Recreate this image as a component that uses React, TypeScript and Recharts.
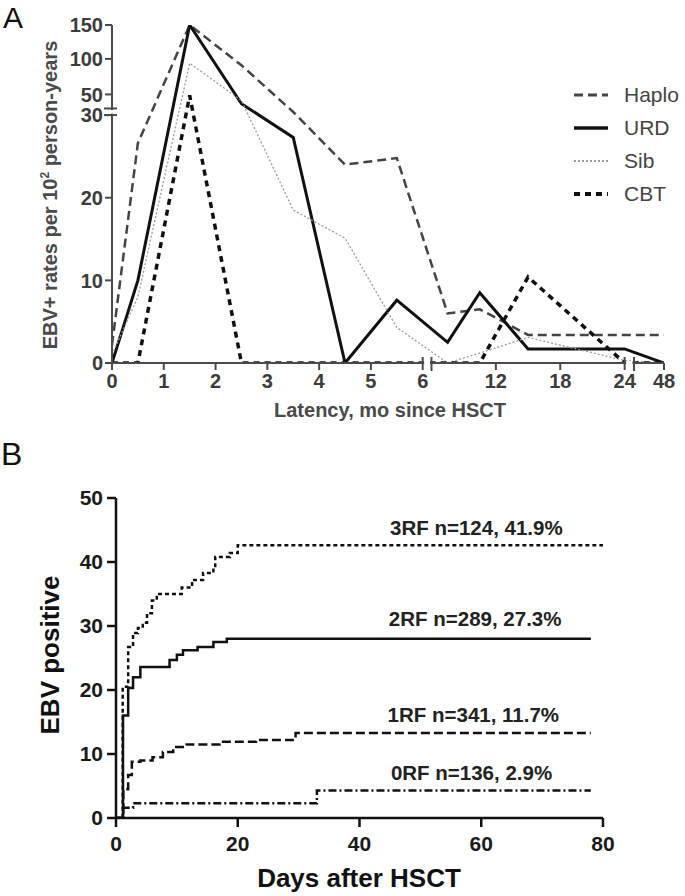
import { LineChart, Line, XAxis, YAxis, Legend, ReferenceDot } from 'recharts';

const FONT = '"Liberation Sans", Arial, Helvetica, sans-serif';

// ---- Panel A: EBV+ rates per 10^2 person-years, by donor type ----
const latencyMonths = [0, 0.5, 1.5, 2.5, 3.5, 4.5, 5.5, 7.5, 10.5, 15, 24, 48];
const haploRates = [2.2, 26.6, 150, 91, 33, 24, 24.8, 6.0, 6.5, 3.4, 3.4, 3.4];
const urdRates = [0, 10, 150, 41, 27.3, 0, 7.6, 2.5, 8.5, 1.7, 1.7, 0];
const sibRates = [1, 8, 94, 44, 18.5, 15.1, 4.3, 0, 1.2, 3.1, 0.3, 0];
const cbtRates = [0, 0, 49, 0, 0, 0, 0, 0, 0, 10.4, 0, 0];

const latencyTicks = [0, 1, 2, 3, 4, 5, 6, 12, 18, 24, 48];
const rateTicks = [0, 10, 20, 30, 50, 100, 150];

// ---- Panel B: cumulative EBV positivity by number of risk factors ----
const rf3Days = [0, 1.1, 2, 2.8, 3.6, 4.4, 5.1, 5.9, 6.7, 10.8, 12.5, 14.3, 16, 16.3, 18.7, 20, 80];
const rf3Pct = [0, 20.5, 26.7, 28.9, 29.7, 30.5, 32, 34, 35, 36, 37.2, 38.3, 39, 40.8, 41.4, 42.6, 42.6];
const rf2Days = [0, 1.15, 2, 2.8, 4, 8.8, 10, 11, 13.4, 16, 18.2, 78];
const rf2Pct = [0, 16, 20.3, 22, 23.6, 24.7, 25.5, 26.2, 26.7, 27.5, 28, 28];
const rf1Days = [0, 1.2, 2, 2.6, 4, 6, 7.7, 9.4, 11.6, 17, 23, 29.5, 78];
const rf1Pct = [0, 4.5, 6.7, 8.8, 9.0, 9.5, 10.3, 11.1, 11.5, 11.9, 12.2, 13.3, 13.3];
const rf0Days = [0, 1.2, 2.8, 33, 78];
const rf0Pct = [0, 1.6, 2.3, 4.3, 4.3];

const riskLabels = ['3RF n=124, 41.9%', '2RF n=289, 27.3%', '1RF n=341, 11.7%', '0RF n=136, 2.9%'];
const riskLabelAt = [
  { day: 59.2, pct: 45.3 },
  { day: 59, pct: 31.1 },
  { day: 58.7, pct: 16.1 },
  { day: 58.4, pct: 7.0 },
];

// broken axes in panel A: months 0-6 | 6-24 | 24-48, rates 0-30 | 30-150
const monthPos = (m: number) => {
  if (m <= 6) return m;
  if (m <= 24) return 6.17 + (m - 6) * (3.73 / 18);
  return 9.9 + (m - 24) * (0.76 / 24);
};
const ratePos = (v: number) => {
  if (v <= 30) return v;
  if (v <= 50) return 30 + (v - 30) * (2.5 / 20);
  if (v <= 100) return 32.5 + (v - 50) * (4.3 / 50);
  return 36.8 + (v - 100) * (4.1 / 50);
};

const X_MAX_A = monthPos(48);
const Y_MAX_A = ratePos(150);
const xBreaks = [
  { at: 6.17, prev: monthPos(6) },
  { at: 10.08, prev: monthPos(24) },
];
const Y_BREAK_A = 30.8;

const marginA = { top: 25, right: 21, left: 52, bottom: 37 };
const PX_X_A = (685 - marginA.left - 60 - marginA.right) / X_MAX_A;
const PX_Y_A = (430 - marginA.top - marginA.bottom - 30) / Y_MAX_A;

const rowsA = latencyMonths.map((m, i) => ({
  pos: monthPos(m),
  haplo: ratePos(haploRates[i]),
  urd: ratePos(urdRates[i]),
  sib: ratePos(sibRates[i]),
  cbt: ratePos(cbtRates[i]),
}));

const toRows = (days: number[], pct: number[]) => days.map((d, i) => ({ day: d, pct: pct[i] }));

const A_AXIS = '#4a4a4a';
const A_TEXT = '#3c3c3c';

const seriesA = [
  { key: 'haplo', name: 'Haplo', stroke: '#444', width: 2.5, dash: '9 5' },
  { key: 'urd', name: 'URD', stroke: '#111', width: 3, dash: undefined },
  { key: 'sib', name: 'Sib', stroke: '#9a9a9a', width: 1.3, dash: '2 2' },
  { key: 'cbt', name: 'CBT', stroke: '#111', width: 3.5, dash: '6 5' },
];

const LatencyTick = ({ x, y, payload }: any) => {
  const v = payload.value;
  const axisY = y - 11;
  const brk = xBreaks.find((b) => Math.abs(b.at - v) < 1e-6);
  if (brk) {
    const gap = (brk.at - brk.prev) * PX_X_A;
    return (
      <g>
        <rect x={x - gap + 1.5} y={axisY - 2} width={gap - 3} height={4} fill="#fff" />
        <line x1={x} y1={axisY - 6} x2={x} y2={axisY + 8} stroke={A_AXIS} strokeWidth={2} />
      </g>
    );
  }
  const month = latencyTicks.find((m) => Math.abs(monthPos(m) - v) < 1e-6);
  const tall = month === 6 || month === 24;
  return (
    <g>
      <line x1={x} y1={tall ? axisY - 6 : axisY} x2={x} y2={axisY + 7} stroke={A_AXIS} strokeWidth={2} />
      <text x={x} y={y} dy="0.72em" textAnchor="middle" fontSize={20} fontWeight={700} fill={A_TEXT}>
        {month}
      </text>
    </g>
  );
};

const RateTick = ({ x, y, payload }: any) => {
  const v = payload.value;
  const axisX = x + 9;
  if (Math.abs(v - Y_BREAK_A) < 1e-6) {
    const gap = (Y_BREAK_A - 30) * PX_Y_A;
    return (
      <g>
        <rect x={axisX - 2} y={y + 1.5} width={4} height={gap - 3} fill="#fff" />
        <line x1={axisX - 8} x2={axisX + 5} y1={y} y2={y} stroke={A_AXIS} strokeWidth={2} />
        <line x1={axisX - 8} x2={axisX + 5} y1={y + gap} y2={y + gap} stroke={A_AXIS} strokeWidth={2} />
      </g>
    );
  }
  const rate = rateTicks.find((r) => Math.abs(ratePos(r) - v) < 1e-6);
  return (
    <g>
      <line x1={axisX - 7} y1={y} x2={axisX} y2={y} stroke={A_AXIS} strokeWidth={2} />
      <text x={x} y={y} dy="0.36em" textAnchor="end" fontSize={20} fontWeight={700} fill={A_TEXT}>
        {rate}
      </text>
    </g>
  );
};

const DonorLegend = () => (
  <div style={{ fontFamily: FONT }}>
    {seriesA.map((s) => (
      <div key={s.key} style={{ display: 'flex', alignItems: 'center', height: 33 }}>
        <svg width={34} height={10} style={{ marginRight: 16 }}>
          <line x1={0} y1={5} x2={34} y2={5} stroke={s.stroke} strokeWidth={s.width + 0.5} strokeDasharray={s.dash} />
        </svg>
        <span style={{ fontSize: 21, color: '#444' }}>{s.name}</span>
      </div>
    ))}
  </div>
);

const abs = (left: number, top: number, width: number, height: number) => ({
  position: 'absolute' as const,
  left,
  top,
  width,
  height,
  lineHeight: `${height}px`,
  textAlign: 'center' as const,
  fontWeight: 700,
});

const riskSeries = [
  { name: '3RF', rows: toRows(rf3Days, rf3Pct), dash: '4 3' },
  { name: '2RF', rows: toRows(rf2Days, rf2Pct), dash: undefined },
  { name: '1RF', rows: toRows(rf1Days, rf1Pct), dash: '9 4' },
  { name: '0RF', rows: toRows(rf0Days, rf0Pct), dash: '8 3 2 3' },
];

const B_TICK = { fontSize: 21, fontWeight: 700, fill: '#1a1a1a' };

export default function App() {
  return (
    <div style={{ position: 'absolute', left: 0, top: 0, width: 685, height: 896, background: '#fff', fontFamily: FONT }}>
      {/* Panel A */}
      <div style={{ position: 'absolute', left: 3, top: 3, fontSize: 30, lineHeight: '30px', color: '#111' }}>A</div>
      <div style={{ position: 'absolute', left: 0, top: 0 }}>
        <LineChart width={685} height={430} data={rowsA} margin={marginA}>
          <XAxis
            type="number"
            dataKey="pos"
            domain={[0, X_MAX_A]}
            ticks={[...latencyTicks.map(monthPos), ...xBreaks.map((b) => b.at)]}
            interval={0}
            tickLine={false}
            tickSize={7}
            tickMargin={4}
            tick={<LatencyTick />}
            axisLine={{ stroke: A_AXIS, strokeWidth: 2 }}
            allowDataOverflow
          />
          <YAxis
            type="number"
            domain={[0, Y_MAX_A]}
            ticks={[...rateTicks.map(ratePos), Y_BREAK_A]}
            interval={0}
            width={60}
            tickLine={false}
            tickSize={7}
            tickMargin={2}
            tick={<RateTick />}
            axisLine={{ stroke: A_AXIS, strokeWidth: 2 }}
            allowDataOverflow
          />
          <Legend
            layout="vertical"
            align="center"
            verticalAlign="middle"
            content={() => <DonorLegend />}
            wrapperStyle={{ left: 574, top: 78, width: 111, height: 134 }}
          />
          {seriesA.map((s) => (
            <Line
              key={s.key}
              dataKey={s.key}
              name={s.name}
              type="linear"
              stroke={s.stroke}
              strokeWidth={s.width}
              strokeDasharray={s.dash}
              strokeLinejoin="miter"
              dot={false}
              activeDot={false}
              isAnimationActive={false}
            />
          ))}
        </LineChart>
      </div>
      <div style={{ ...abs(-150, 182, 400, 26), transform: 'rotate(-90deg)', fontSize: 20, color: '#4a4a4a' }}>
        EBV+ rates per 10<sup style={{ fontSize: 12, lineHeight: 0 }}>2</sup> person-years
      </div>
      <div style={{ ...abs(190, 397, 400, 26), fontSize: 20, color: '#4a4a4a' }}>Latency, mo since HSCT</div>

      {/* Panel B */}
      <div style={{ position: 'absolute', left: 1, top: 438, fontSize: 32, lineHeight: 1, color: '#111' }}>B</div>
      <div style={{ position: 'absolute', left: 0, top: 430 }}>
        <LineChart width={685} height={466} margin={{ top: 68, right: 82, left: 56, bottom: 48 }}>
          <XAxis
            type="number"
            dataKey="day"
            domain={[0, 80]}
            ticks={[0, 20, 40, 60, 80]}
            interval={0}
            tickSize={9}
            tickMargin={9}
            tick={B_TICK}
            tickLine={{ stroke: '#111', strokeWidth: 2.5 }}
            axisLine={{ stroke: '#111', strokeWidth: 2.5 }}
            allowDataOverflow
          />
          <YAxis
            type="number"
            domain={[0, 50]}
            ticks={[0, 10, 20, 30, 40, 50]}
            interval={0}
            width={60}
            tickSize={9}
            tickMargin={4}
            tick={B_TICK}
            tickLine={{ stroke: '#111', strokeWidth: 2.5 }}
            axisLine={{ stroke: '#111', strokeWidth: 2.5 }}
            allowDataOverflow
          />
          {riskSeries.map((s) => (
            <Line
              key={s.name}
              data={s.rows}
              dataKey="pct"
              name={s.name}
              type="stepAfter"
              stroke="#111"
              strokeWidth={2.5}
              strokeDasharray={s.dash}
              dot={false}
              activeDot={false}
              isAnimationActive={false}
            />
          ))}
          {riskLabels.map((text, i) => (
            <ReferenceDot
              key={text}
              x={riskLabelAt[i].day}
              y={riskLabelAt[i].pct}
              r={1}
              fill="none"
              stroke="none"
              label={{ value: text, position: 'center', fontSize: 20.5, fontWeight: 700, fill: '#222' }}
            />
          ))}
        </LineChart>
      </div>
      <div style={{ ...abs(-150, 640, 400, 30), transform: 'rotate(-90deg)', fontSize: 26, color: '#111' }}>
        EBV positive
      </div>
      <div style={{ ...abs(159, 863, 400, 30), fontSize: 26, color: '#111' }}>Days after HSCT</div>
    </div>
  );
}
